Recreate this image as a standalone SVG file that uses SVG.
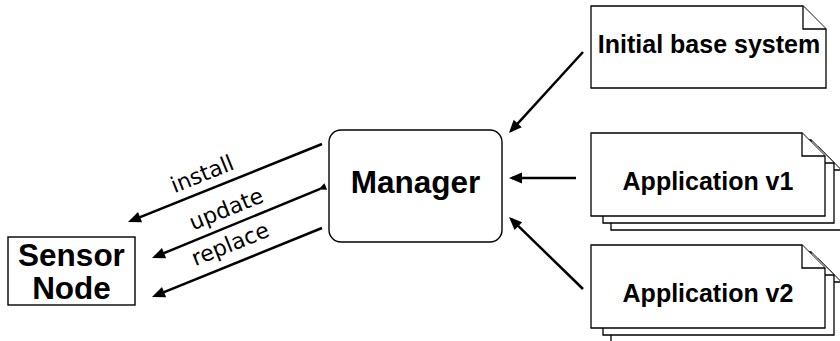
<svg xmlns="http://www.w3.org/2000/svg" width="840" height="341" viewBox="0 0 840 341">
<style>
.box{fill:#fff;stroke:#000;stroke-width:1.4}
.doc{fill:#fff;stroke:#000;stroke-width:1.3;stroke-linejoin:miter}
.big{font-family:"Liberation Sans",Arial,sans-serif;font-weight:bold;font-size:31.5px;fill:#000;text-anchor:middle}
.dt{font-family:"Liberation Sans",Arial,sans-serif;font-weight:bold;font-size:25px;fill:#000;text-anchor:middle}
.lbl{font-family:"DejaVu Sans",sans-serif;font-size:22px;fill:#000;text-anchor:middle}
.c{stroke:#000;stroke-width:2.5;fill:none}
</style>
<defs>
<marker id="ah" markerUnits="userSpaceOnUse" markerWidth="13" markerHeight="11" refX="10" refY="5.5" orient="auto" overflow="visible">
<path d="M0,0 L13,5.5 L0,11 z" fill="#000"/>
</marker>
<marker id="ahs" markerUnits="userSpaceOnUse" markerWidth="8" markerHeight="7" refX="6" refY="3.5" orient="auto" overflow="visible">
<path d="M0,0 L8,3.5 L0,7 z" fill="#000"/>
</marker>
</defs>
<g id="connectors">
<line class="c" x1="322" y1="144" x2="130.8" y2="220.9" marker-end="url(#ah)"/>
<line class="c" x1="320.2" y1="188.8" x2="154.8" y2="256.9" marker-start="url(#ahs)" marker-end="url(#ah)"/>
<line class="c" x1="322" y1="228" x2="154.8" y2="295.9" marker-end="url(#ah)"/>
<line class="c" x1="583" y1="52" x2="511" y2="130.8" marker-end="url(#ah)"/>
<line class="c" x1="576" y1="178" x2="512" y2="178" marker-end="url(#ah)"/>
<line class="c" x1="583" y1="289" x2="511.2" y2="219.1" marker-end="url(#ah)"/>
<text class="lbl" transform="translate(205,181) rotate(-22)">install</text>
<text class="lbl" transform="translate(229,216) rotate(-22)">update</text>
<text class="lbl" transform="translate(233,251) rotate(-22)">replace</text>
</g>
<g id="sensor">
<rect class="box" x="8" y="237" width="127" height="68"/>
<text class="big" x="71.5" y="266">Sensor</text>
<text class="big" x="71.5" y="299">Node</text>
</g>
<g id="manager">
<rect class="box" x="329" y="130" width="173" height="112" rx="12"/>
<text class="big" x="415.5" y="193">Manager</text>
</g>
<g id="base">
<path class="doc" d="M591,6 H803 L826,29 V88 H591 Z"/>
<path class="doc" d="M803,6 V29 H826" fill="none"/>
<text class="dt" x="709" y="53">Initial base system</text>
</g>
<g id="app1">
<path class="doc" d="M611,147 H818 L841,170 V230 H611 Z"/>
<path class="doc" d="M818,147 V170 H841" fill="none"/>
<path class="doc" d="M603,140 H811 L834,163 V223 H603 Z"/>
<path class="doc" d="M811,140 V163 H834" fill="none"/>
<path class="doc" d="M591,133 H802 L825,156 V216 H591 Z"/>
<path class="doc" d="M802,133 V156 H825" fill="none"/>
<text class="dt" x="708" y="190">Application v1</text>
</g>
<g id="app2">
<path class="doc" d="M611,259 H818 L841,282 V342 H611 Z"/>
<path class="doc" d="M818,259 V282 H841" fill="none"/>
<path class="doc" d="M603,252 H811 L834,275 V335 H603 Z"/>
<path class="doc" d="M811,252 V275 H834" fill="none"/>
<path class="doc" d="M591,245 H802 L825,268 V328 H591 Z"/>
<path class="doc" d="M802,245 V268 H825" fill="none"/>
<text class="dt" x="708" y="302">Application v2</text>
</g>
</svg>
